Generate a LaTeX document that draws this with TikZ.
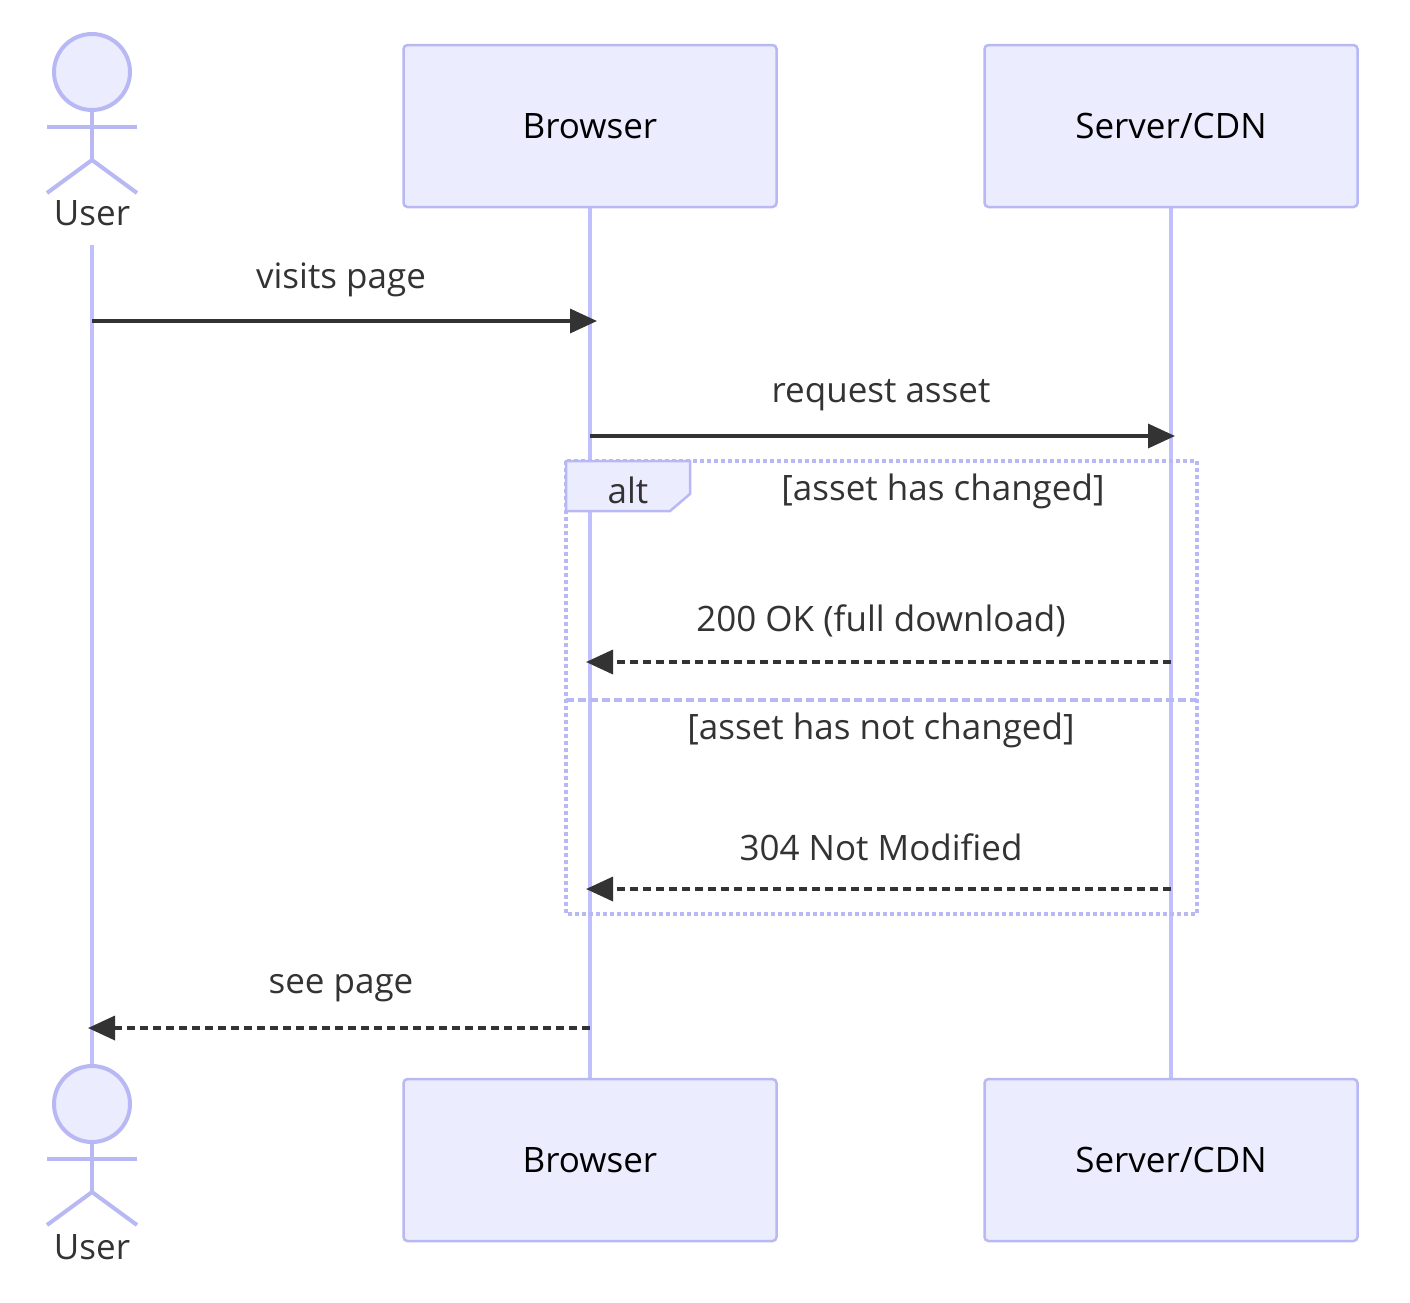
\documentclass[tikz,border=0pt]{standalone}
\usepackage{fontspec}
\setmainfont{Open Sans}
\usetikzlibrary{arrows.meta, positioning}
\definecolor{boxfill}{HTML}{ECECFF}
\definecolor{boxline}{HTML}{B8B8F5}
\definecolor{lifeline}{HTML}{C0C0FF}
\definecolor{msgline}{HTML}{333333}
\tikzset{
    party/.style={draw=boxline, fill=boxfill, line width=2.5pt, rounded corners=4pt,
        minimum width=373pt, minimum height=162pt, font=\fontsize{35}{40}\selectfont},
    actorline/.style={draw=boxline, line width=4pt},
    life/.style={draw=lifeline, line width=4.5pt},
    msg/.style={draw=msgline, line width=3.5pt, -{Triangle[length=27pt,width=24pt]}},
    reply/.style={msg, dash pattern=on 8pt off 5pt},
    lbl/.style={font=\fontsize{35}{40}\selectfont, text=msgline},
}
\newcommand{\stickman}[2]{%
    \draw[actorline, fill=boxfill] (#1,#2) circle (38);
    \draw[actorline] (#1,#2+38) -- (#1,#2+88);
    \draw[actorline] (#1-45,#2+55) -- (#1+45,#2+55);
    \draw[actorline] (#1-45,#2+121) -- (#1,#2+88) -- (#1+45,#2+121);
}
\begin{document}
\begin{tikzpicture}[x=1pt,y=-1pt]
    \useasboundingbox (0,0) rectangle (1410,1302);

    % Lifelines
    \draw[life] (92,245) -- (92,1065);
    \draw[life] (590,207) -- (590,1079);
    \draw[life] (1171,207) -- (1171,1079);

    % Participants (top)
    \stickman{92}{72}
    \node[lbl] (user) at (92,213) {User};
    \node[party] (browser) at (590,126) {Browser};
    \node[party] (server) at (1171,126) {Server/CDN};

    % Participants (bottom)
    \stickman{92}{1104}
    \node[lbl] (userB) at (92,1247) {User};
    \node[party] (browserB) at (590,1160) {Browser};
    \node[party] (serverB) at (1171,1160) {Server/CDN};

    % Lifeline anchors
    \coordinate (u1) at (92,321);   \coordinate (b1) at (597,321);
    \coordinate (b2) at (590,436);  \coordinate (s2) at (1175,436);
    \coordinate (s3) at (1171,662); \coordinate (b3) at (586,662);
    \coordinate (s4) at (1171,889); \coordinate (b4) at (586,889);
    \coordinate (b5) at (590,1028); \coordinate (u5) at (88,1028);

    % alt fragment
    \draw[boxline, line width=4pt, dash pattern=on 4pt off 3pt] (566,461) rectangle (1197,914);
    \draw[boxline, line width=2.5pt, fill=boxfill] (566,461) -- (690,461) -- (690,494) -- (670,511) -- (566,511) -- cycle;
    \node[lbl] (alt) at (628,490) {alt};
    \node[lbl] (cond1) at (943,491) {[asset has changed]};
    \draw[boxline, line width=4pt, dash pattern=on 8pt off 4pt] (566,700) -- (1197,700);
    \node[lbl] (cond2) at (881,730) {[asset has not changed]};

    % Messages
    \draw[msg] (u1) -- (b1);
    \node[lbl] (m1) at (341,280) {visits page};
    \draw[msg] (b2) -- (s2);
    \node[lbl] (m2) at (881,395) {request asset};
    \draw[reply] (s3) -- (b3);
    \node[lbl] (m3) at (881,621) {200 OK (full download)};
    \draw[reply] (s4) -- (b4);
    \node[lbl] (m4) at (881,847) {304 Not Modified};
    \draw[reply] (b5) -- (u5);
    \node[lbl] (m5) at (341,988) {see page};
\end{tikzpicture}
\end{document}
